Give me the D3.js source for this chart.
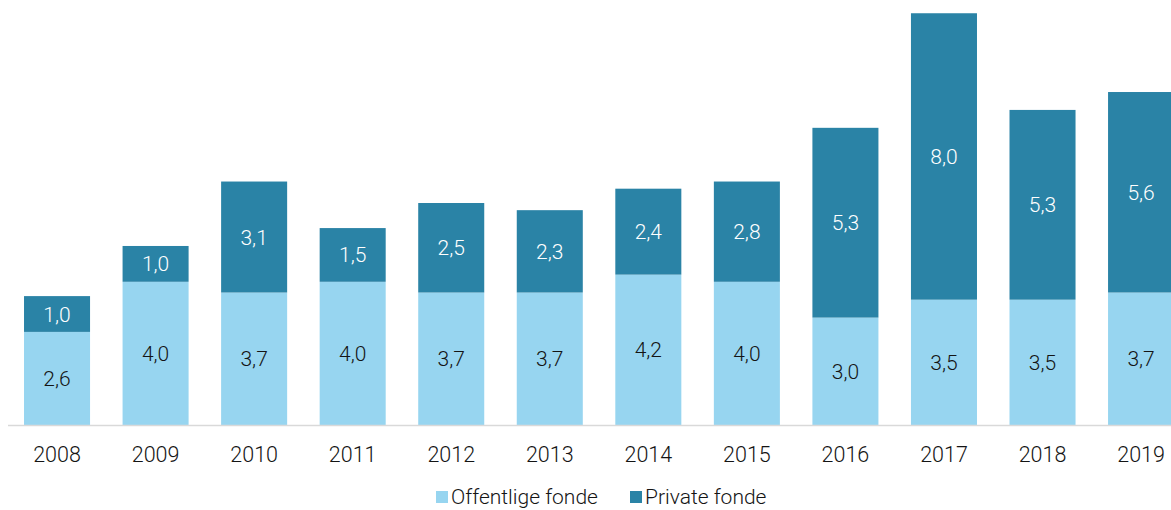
<!DOCTYPE html>
<html>
<head>
<meta charset="utf-8">
<script src="https://cdn.jsdelivr.net/npm/d3@7"></script>
<style>
  body { margin: 0; background: #fff; }
  svg { display: block; font-family: Roboto, sans-serif; font-weight: 300; }
</style>
</head>
<body>
<div id="chart"></div>
<script>
const years = ["2008","2009","2010","2011","2012","2013","2014","2015","2016","2017","2018","2019"];
const offentlige = [2.6, 4.0, 3.7, 4.0, 3.7, 3.7, 4.2, 4.0, 3.0, 3.5, 3.5, 3.7];
const private_ = [1.0, 1.0, 3.1, 1.5, 2.5, 2.3, 2.4, 2.8, 5.3, 8.0, 5.3, 5.6];
const seriesNames = ["Offentlige fonde", "Private fonde"];

let width = 1171, height = 510;
const colors = ["#97d5f0", "#2a83a6"];
const textColors = ["#141414", "#ffffff"];

const svg = d3.select("#chart")
    .append("svg")
    .attr("width", width)
    .attr("height", height);

const data = years.map((yr, i) => ({year: yr, off: offentlige[i], priv: private_[i]}));
const stack = d3.stack().keys(["off", "priv"])(data);

let x = d3.scaleBand()
    .domain(years)
    .range([-8.5, 1206.6])
    .padding(0.33);

let y = d3.scaleLinear()
    .domain([0, 11.87])
    .range([425, 0]);

const fmt = v => d3.format(".1f")(v).replace(".", ",");

// bars
stack.forEach((layer, k) => {
    const g = svg.append("g");
    g.selectAll("rect")
        .data(layer)
        .join("rect")
        .attr("x", d => x(d.data.year))
        .attr("width", x.bandwidth())
        .attr("y", d => y(d[1]))
        .attr("height", d => y(d[0]) - y(d[1]))
        .attr("fill", colors[k]);

    g.selectAll("text")
        .data(layer)
        .join("text")
        .attr("x", d => x(d.data.year) + x.bandwidth() / 2)
        .attr("y", d => (y(d[0]) + y(d[1])) / 2)
        .attr("dy", "0.36em")
        .attr("text-anchor", "middle")
        .style("font-size", "21px")
        .style("fill", textColors[k])
        .text(d => fmt(d[1] - d[0]));
});

// x axis
const xAxis = g => g
    .attr("transform", `translate(0,425)`)
    .call(d3.axisBottom(x).tickSize(0).tickPadding(22))
    .call(g => g.select(".domain").remove())
    .call(g => g.selectAll("text")
        .style("font-family", "Roboto, sans-serif")
        .style("font-weight", 300)
        .style("font-size", "21.5px")
        .style("fill", "#141414"));

svg.append("g").call(xAxis);

svg.append("line")
    .attr("x1", 8).attr("x2", width)
    .attr("y1", 425.5).attr("y2", 425.5)
    .attr("stroke", "#d9d9d9")
    .attr("stroke-width", 1.5);

// legend
const legendX = [436, 630];
const legend = svg.append("g");
seriesNames.forEach((name, i) => {
    legend.append("rect")
        .attr("x", legendX[i])
        .attr("y", 491)
        .attr("width", 12)
        .attr("height", 12)
        .attr("fill", colors[i]);
    legend.append("text")
        .attr("x", legendX[i] + 15)
        .attr("y", 496)
        .attr("dy", "0.36em")
        .style("font-size", "21px")
        .style("fill", "#141414")
        .text(name);
});
</script>
</body>
</html>
